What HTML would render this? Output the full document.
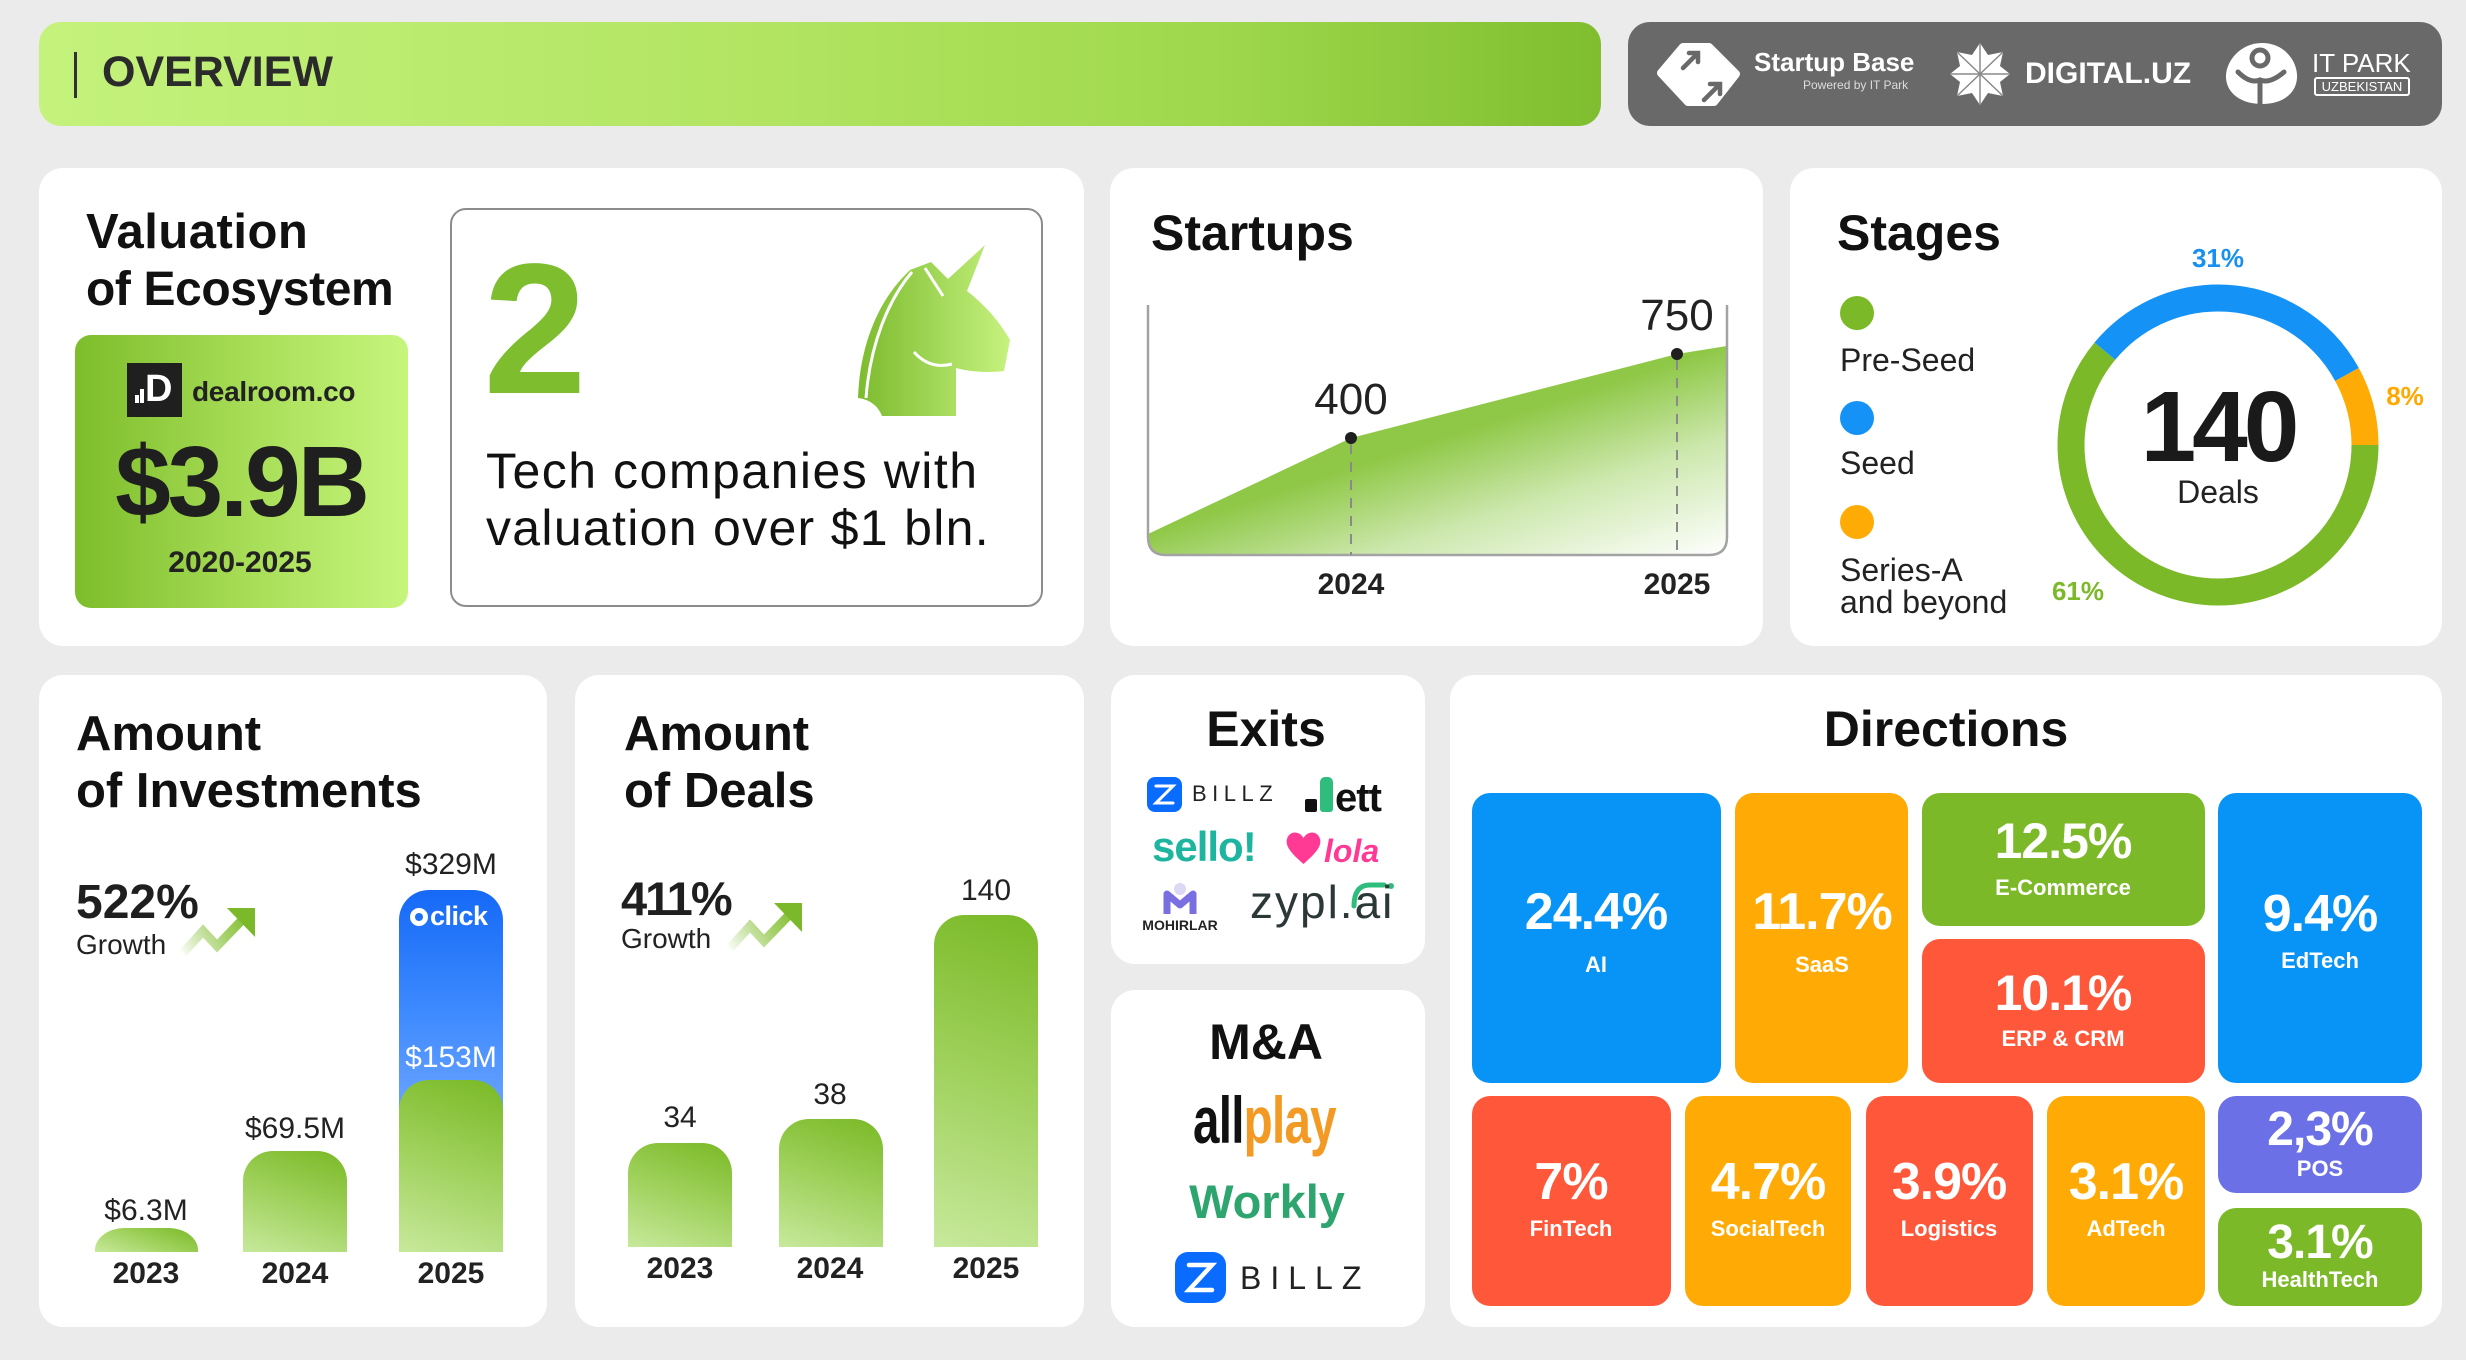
<!DOCTYPE html>
<html><head><meta charset="utf-8">
<style>
html,body{margin:0;padding:0;}
body{width:2466px;height:1360px;background:#ebebeb;position:relative;overflow:hidden;font-family:"Liberation Sans",Arial,sans-serif;}
.a{position:absolute;}
.card{position:absolute;background:#fff;border-radius:24px;}
.t{position:absolute;white-space:nowrap;line-height:1;font-family:"Liberation Sans",Arial,sans-serif;color:#1a1a1a;}
.c{transform:translateX(-50%);}
.b{font-weight:bold;}
.ttl{font-size:49px;font-weight:bold;color:#111;}
.bar{position:absolute;border-radius:30px 30px 0 0;background:linear-gradient(200deg,#79b926 0%,#9ccf57 45%,#c7e99c 100%);}
.tile{position:absolute;border-radius:18px;}
.big{font-size:52px;font-weight:bold;color:#fff;letter-spacing:-1px;}
.lab{font-size:22px;font-weight:bold;color:#fff;}
</style></head><body>

<!-- header -->
<div class="a" style="left:39px;top:22px;width:1562px;height:104px;border-radius:22px;background:linear-gradient(90deg,#c4f27c 0%,#b3e563 45%,#9fd84c 75%,#7fbe2f 100%);"></div>
<div class="a" style="left:74px;top:52px;width:3px;height:46px;background:#333;"></div>
<div class="a" style="left:1628px;top:22px;width:814px;height:104px;border-radius:22px;background:#696969;"></div>

<!-- cards -->
<div class="card" style="left:39px;top:168px;width:1045px;height:478px;"></div>
<div class="card" style="left:1110px;top:168px;width:653px;height:478px;"></div>
<div class="card" style="left:1790px;top:168px;width:652px;height:478px;"></div>
<div class="card" style="left:39px;top:675px;width:508px;height:652px;"></div>
<div class="card" style="left:575px;top:675px;width:509px;height:652px;"></div>
<div class="card" style="left:1111px;top:675px;width:314px;height:289px;"></div>
<div class="card" style="left:1111px;top:990px;width:314px;height:337px;"></div>
<div class="card" style="left:1450px;top:675px;width:992px;height:652px;"></div>

<!-- dealroom box -->
<div class="a" style="left:75px;top:335px;width:333px;height:273px;border-radius:16px;background:linear-gradient(90deg,#7dbd2b 0%,#a6dc55 50%,#c6f57c 100%);"></div>
<div class="a" style="left:127px;top:363px;width:55px;height:54px;background:#1f1f1f;"></div>
<div class="a" style="left:135px;top:395px;width:4px;height:8px;background:#fff;"></div>
<div class="a" style="left:140px;top:389px;width:4px;height:14px;background:#fff;"></div>
<!-- unicorn box -->
<div class="a" style="left:450px;top:208px;width:593px;height:399px;border:2.5px solid #8c8c8c;border-radius:16px;box-sizing:border-box;"></div>

<!-- investment bars -->
<div class="bar" style="left:95px;top:1228px;width:103px;height:24px;border-radius:30px 30px 0 0/22px 22px 0 0;"></div>
<div class="bar" style="left:243px;top:1151px;width:104px;height:101px;"></div>
<div class="a" style="left:399px;top:890px;width:104px;height:362px;border-radius:30px 30px 0 0;background:linear-gradient(180deg,#1569f6 0%,#3f8bff 35%,#78abff 70%,#a9cbff 100%);"></div>
<div class="bar" style="left:399px;top:1080px;width:104px;height:172px;"></div>
<!-- deals bars -->
<div class="bar" style="left:628px;top:1143px;width:104px;height:104px;"></div>
<div class="bar" style="left:779px;top:1119px;width:104px;height:128px;"></div>
<div class="bar" style="left:934px;top:915px;width:104px;height:332px;"></div>

<!-- direction tiles -->
<div class="tile" style="left:1472px;top:793px;width:249px;height:290px;background:#0893f6;"></div>
<div class="tile" style="left:1735px;top:793px;width:173px;height:290px;background:#ffaa05;"></div>
<div class="tile" style="left:1922px;top:793px;width:283px;height:133px;background:#7cb928;"></div>
<div class="tile" style="left:1922px;top:939px;width:283px;height:144px;background:#ff573a;"></div>
<div class="tile" style="left:2218px;top:793px;width:204px;height:290px;background:#0893f6;"></div>
<div class="tile" style="left:1472px;top:1096px;width:199px;height:210px;background:#ff573a;"></div>
<div class="tile" style="left:1685px;top:1096px;width:166px;height:210px;background:#ffaa05;"></div>
<div class="tile" style="left:1866px;top:1096px;width:167px;height:210px;background:#ff573a;"></div>
<div class="tile" style="left:2047px;top:1096px;width:158px;height:210px;background:#ffaa05;"></div>
<div class="tile" style="left:2218px;top:1096px;width:204px;height:97px;background:#6b70e6;"></div>
<div class="tile" style="left:2218px;top:1208px;width:204px;height:98px;background:#7cb928;"></div>

<!-- exits / M&A icon boxes -->
<div class="a" style="left:1147px;top:777px;width:35px;height:35px;border-radius:8px;background:#0a6cff;"></div>
<div class="a" style="left:1175px;top:1252px;width:51px;height:51px;border-radius:13px;background:#0a6cff;"></div>
<div class="a" style="left:1305px;top:799px;width:12px;height:13px;border-radius:2px;background:#111;"></div>
<div class="a" style="left:1320px;top:777px;width:13px;height:35px;border-radius:5px 5px 3px 3px;background:#2ebd7c;"></div>

<svg class="a" style="left:0;top:0;" width="2466" height="1360" viewBox="0 0 2466 1360">
<defs>
<linearGradient id="ag" gradientUnits="userSpaceOnUse" x1="1148" y1="534" x2="1210" y2="724">
<stop offset="0" stop-color="#8fc847"/><stop offset="0.45" stop-color="#cde8ae"/><stop offset="1" stop-color="#ffffff"/></linearGradient>
<linearGradient id="ug" x1="0" y1="0" x2="1" y2="0"><stop offset="0" stop-color="#7cbb2e"/><stop offset="1" stop-color="#c6f27f"/></linearGradient>
<linearGradient id="arg" gradientUnits="userSpaceOnUse" x1="183" y1="953" x2="250" y2="912"><stop offset="0" stop-color="#7cb92a" stop-opacity="0.05"/><stop offset="0.6" stop-color="#8cc43e" stop-opacity="0.8"/><stop offset="1" stop-color="#7cb92a"/></linearGradient>
<linearGradient id="arg2" gradientUnits="userSpaceOnUse" x1="730" y1="948" x2="797" y2="907"><stop offset="0" stop-color="#7cb92a" stop-opacity="0.05"/><stop offset="0.6" stop-color="#8cc43e" stop-opacity="0.8"/><stop offset="1" stop-color="#7cb92a"/></linearGradient>
</defs>

<!-- header logos -->
<polygon points="1683,47 1709,47 1736,74 1714,102 1688,102 1661,73" fill="#fff" stroke="#fff" stroke-width="8" stroke-linejoin="round"/>
<g stroke="#696969" stroke-width="4.5" fill="none" stroke-linecap="round">
<line x1="1683" y1="68" x2="1697" y2="54"/><polyline points="1689,53 1698,53 1698,62"/>
<line x1="1704" y1="100" x2="1719" y2="85"/><polyline points="1710,84 1720,84 1720,94"/>
</g>
<polygon points="1980,43 1988,55 2003,52 2000,66 2010,74 2000,82 2003,96 1988,93 1980,105 1972,93 1957,96 1960,82 1950,74 1960,66 1957,52 1972,55" fill="#fff"/>
<g stroke="#8a8a8a" stroke-width="1.5"><line x1="1980" y1="43" x2="1980" y2="105"/><line x1="1957" y1="52" x2="2003" y2="96"/><line x1="2003" y1="52" x2="1957" y2="96"/><line x1="1950" y1="74" x2="2010" y2="74"/></g>
<path d="M2262 43 C2285 43 2298 62 2297 78 C2296 94 2282 104 2262 104 C2242 104 2227 94 2226 78 C2225 62 2240 43 2262 43 Z" fill="#fff"/>
<g stroke="#696969" stroke-width="5" fill="none" stroke-linecap="round">
<circle cx="2260" cy="58" r="8"/><path d="M2238 72 Q2250 84 2260 80 Q2270 84 2284 72"/><line x1="2260" y1="80" x2="2260" y2="104"/>
</g>

<!-- unicorn -->
<path d="M858 398 C860 345 878 300 910 270 L931 262 L948 279 L985 245 L967 291 C985 305 1000 322 1010 340 L1004 371 C990 373 970 372 956 368 L956 416 L882 416 C878 405 868 399 858 398 Z" fill="url(#ug)"/>
<path d="M912 272 C888 300 870 345 866 398" stroke="#fff" stroke-width="3" fill="none"/>
<path d="M925 268 L943 296" stroke="#fff" stroke-width="3" fill="none"/>
<path d="M914 352 Q930 370 952 364" stroke="#fff" stroke-width="3" fill="none"/>

<!-- startups chart -->
<path d="M1148 534 L1351 438 L1677 354 L1727 346 L1727 537 Q1727 555 1709 555 L1166 555 Q1148 555 1148 537 Z" fill="url(#ag)"/>
<path d="M1148 305 L1148 537 Q1148 555 1166 555 L1709 555 Q1727 555 1727 537 L1727 305" fill="none" stroke="#a3a3a3" stroke-width="2.5"/>
<g stroke="#8a8a8a" stroke-width="2" stroke-dasharray="10 8"><line x1="1351" y1="444" x2="1351" y2="555"/><line x1="1677" y1="360" x2="1677" y2="555"/></g>
<circle cx="1351" cy="438" r="6" fill="#1f1f1f"/><circle cx="1677" cy="354" r="6" fill="#1f1f1f"/>

<!-- legend dots -->
<circle cx="1857" cy="313" r="17" fill="#7cb928"/>
<circle cx="1857" cy="418" r="17" fill="#1592f5"/>
<circle cx="1857" cy="522" r="17" fill="#ffab05"/>
<!-- donut -->
<g fill="none" stroke-width="27">
<circle cx="2218" cy="445" r="147" stroke="#7cb928" stroke-dasharray="563.4 923.6"/>
<circle cx="2218" cy="445" r="147" stroke="#1592f5" stroke-dasharray="286.3 637.3" stroke-dashoffset="-563.4"/>
<circle cx="2218" cy="445" r="147" stroke="#ffab05" stroke-dasharray="73.9 849.7" stroke-dashoffset="-849.7"/>
</g>

<!-- growth arrows -->
<polyline points="183,953 203,931 217,946 245,917" fill="none" stroke="url(#arg)" stroke-width="9" stroke-linejoin="miter"/>
<polygon points="227,908 255,908 255,937" fill="#7cb92a"/>
<polyline points="730,948 750,926 764,941 792,912" fill="none" stroke="url(#arg2)" stroke-width="9"/>
<polygon points="774,903 802,903 802,932" fill="#7cb92a"/>

<!-- click ring -->
<circle cx="419" cy="917" r="6.5" fill="none" stroke="#fff" stroke-width="5"/>

<!-- exits logos -->
<path d="M1156 786 H1173 L1156 803 H1173" stroke="#fff" stroke-width="3" fill="none" stroke-linecap="round"/>
<path d="M1303.5 864 C1291 853 1285 846 1287 839 C1289 831 1299 830 1303.5 838 C1308 830 1318 831 1320 839 C1322 846 1316 853 1303.5 864 Z" fill="#ff3a95"/>
<circle cx="1180" cy="889" r="6" fill="#dcd8f5"/>
<path d="M1167 914 V894 L1180 905 L1193 894 V914" stroke="#7a6fe0" stroke-width="7" fill="none" stroke-linejoin="round"/>
<path d="M1354 906 Q1354 885 1370 885 L1384 885" stroke="#2ebd7c" stroke-width="5" fill="none" stroke-linecap="round"/>
<circle cx="1391" cy="886" r="3" fill="#2ebd7c"/>
<!-- M&A billz Z -->
<path d="M1189 1265 H1212 L1189 1290 H1212" stroke="#fff" stroke-width="4.5" fill="none" stroke-linecap="round"/>
</svg>

<!-- TEXT -->
<div class="t b" style="left:102px;top:51px;font-size:43px;color:#2b2b2b;">OVERVIEW</div>
<div class="t b" style="left:1754px;top:49px;font-size:26px;color:#fff;">Startup Base</div>
<div class="t" style="left:1803px;top:79px;font-size:12px;color:#ddd;">Powered by IT Park</div>
<div class="t b" style="left:2025px;top:59px;font-size:30px;color:#fff;">DIGITAL.UZ</div>
<div class="t" style="left:2312px;top:50px;font-size:26px;color:#fff;">IT PARK</div>
<div class="a" style="left:2314px;top:77px;width:96px;height:19px;border:2px solid #fff;border-radius:3px;box-sizing:border-box;"></div>
<div class="t c" style="left:2362px;top:80px;font-size:13px;color:#fff;">UZBEKISTAN</div>

<div class="t ttl" style="left:86px;top:208px;letter-spacing:0.5px;">Valuation</div>
<div class="t ttl" style="left:86px;top:266px;font-size:48px;letter-spacing:-0.4px;">of Ecosystem</div>
<div class="t b" style="left:145px;top:370px;font-size:38px;color:#fff;">D</div>
<div class="t b" style="left:192px;top:378px;font-size:28px;color:#222;letter-spacing:-0.3px;">dealroom.co</div>
<div class="t b c" style="left:241px;top:432px;font-size:100px;color:#1f1f1f;letter-spacing:-3px;">$3.9B</div>
<div class="t b c" style="left:240px;top:548px;font-size:30px;color:#222;">2020-2025</div>
<div class="t b c" style="left:535px;top:237px;font-size:186px;color:#7dbd2e;">2</div>
<div class="t" style="left:486px;top:446px;font-size:50px;color:#111;letter-spacing:1.5px;">Tech companies with</div>
<div class="t" style="left:486px;top:503px;font-size:50px;color:#111;letter-spacing:1.3px;">valuation over $1 bln.</div>

<div class="t ttl" style="left:1151px;top:208px;font-size:50px;">Startups</div>
<div class="t c" style="left:1351px;top:378px;font-size:44px;color:#222;">400</div>
<div class="t c" style="left:1677px;top:294px;font-size:44px;color:#222;">750</div>
<div class="t b c" style="left:1351px;top:570px;font-size:30px;color:#222;">2024</div>
<div class="t b c" style="left:1677px;top:570px;font-size:30px;color:#222;">2025</div>

<div class="t ttl" style="left:1837px;top:208px;font-size:50px;">Stages</div>
<div class="t" style="left:1840px;top:344px;font-size:32px;color:#222;">Pre-Seed</div>
<div class="t" style="left:1840px;top:447px;font-size:32px;color:#222;">Seed</div>
<div class="t" style="left:1840px;top:554px;font-size:32px;color:#222;">Series-A</div>
<div class="t" style="left:1840px;top:586px;font-size:32px;color:#222;">and beyond</div>
<div class="t b c" style="left:2218px;top:377px;font-size:100px;color:#1a1a1a;letter-spacing:-4px;">140</div>
<div class="t c" style="left:2218px;top:476px;font-size:32px;color:#222;">Deals</div>
<div class="t b c" style="left:2218px;top:245px;font-size:26px;color:#1890f0;">31%</div>
<div class="t b c" style="left:2405px;top:383px;font-size:26px;color:#ffa800;">8%</div>
<div class="t b c" style="left:2078px;top:578px;font-size:26px;color:#7cb928;">61%</div>

<div class="t ttl" style="left:76px;top:710px;">Amount</div>
<div class="t ttl" style="left:76px;top:767px;">of Investments</div>
<div class="t b" style="left:76px;top:879px;font-size:48px;color:#1f1f1f;">522%</div>
<div class="t" style="left:76px;top:931px;font-size:28px;color:#222;">Growth</div>
<div class="t c" style="left:146px;top:1196px;font-size:30px;color:#222;">$6.3M</div>
<div class="t c" style="left:295px;top:1114px;font-size:30px;color:#222;">$69.5M</div>
<div class="t c" style="left:451px;top:850px;font-size:30px;color:#222;">$329M</div>
<div class="t c" style="left:451px;top:1043px;font-size:30px;color:#fff;">$153M</div>
<div class="t b" style="left:430px;top:903px;font-size:27px;color:#fff;letter-spacing:-0.5px;">click</div>
<div class="t b c" style="left:146px;top:1259px;font-size:30px;color:#222;">2023</div>
<div class="t b c" style="left:295px;top:1259px;font-size:30px;color:#222;">2024</div>
<div class="t b c" style="left:451px;top:1259px;font-size:30px;color:#222;">2025</div>

<div class="t ttl" style="left:624px;top:710px;">Amount</div>
<div class="t ttl" style="left:624px;top:767px;">of Deals</div>
<div class="t b" style="left:621px;top:875px;font-size:47px;color:#1f1f1f;letter-spacing:-2px;">411%</div>
<div class="t" style="left:621px;top:925px;font-size:28px;color:#222;">Growth</div>
<div class="t c" style="left:680px;top:1103px;font-size:30px;color:#222;">34</div>
<div class="t c" style="left:830px;top:1080px;font-size:30px;color:#222;">38</div>
<div class="t c" style="left:986px;top:876px;font-size:30px;color:#222;">140</div>
<div class="t b c" style="left:680px;top:1254px;font-size:30px;color:#222;">2023</div>
<div class="t b c" style="left:830px;top:1254px;font-size:30px;color:#222;">2024</div>
<div class="t b c" style="left:986px;top:1254px;font-size:30px;color:#222;">2025</div>

<div class="t ttl c" style="left:1266px;top:704px;font-size:50px;">Exits</div>
<div class="t" style="left:1192px;top:783px;font-size:22px;color:#222;letter-spacing:5.5px;">BILLZ</div>
<div class="t b" style="left:1335px;top:778px;font-size:40px;color:#111;letter-spacing:-1px;">ett</div>
<div class="t b" style="left:1152px;top:826px;font-size:42px;color:#1db59f;letter-spacing:-1px;">sello!</div>
<div class="t b" style="left:1324px;top:835px;font-size:32px;color:#ff3a95;font-style:italic;">lola</div>
<div class="t b c" style="left:1180px;top:918px;font-size:14px;color:#222;">MOHIRLAR</div>
<div class="t" style="left:1250px;top:879px;font-size:46px;color:#2c3838;letter-spacing:2px;">zypl.ai</div>

<div class="t ttl c" style="left:1266px;top:1017px;font-size:50px;">M&amp;A</div>
<div class="t b" style="left:1193px;top:1087px;font-size:66px;letter-spacing:-1px;transform:scaleX(0.72);transform-origin:left top;color:#111;">all<span style="color:#f39a24;">play</span></div>
<div class="t b c" style="left:1267px;top:1178px;font-size:47px;color:#2ea56f;">Workly</div>
<div class="t" style="left:1240px;top:1262px;font-size:32px;color:#222;letter-spacing:9px;">BILLZ</div>

<div class="t ttl c" style="left:1946px;top:704px;font-size:50px;">Directions</div>
<div class="t big c" style="left:1596px;top:886px;">24.4%</div>
<div class="t lab c" style="left:1596px;top:954px;">AI</div>
<div class="t big c" style="left:1822px;top:886px;">11.7%</div>
<div class="t lab c" style="left:1822px;top:954px;">SaaS</div>
<div class="t big c" style="left:2063px;top:816px;font-size:50px;">12.5%</div>
<div class="t lab c" style="left:2063px;top:877px;">E-Commerce</div>
<div class="t big c" style="left:2063px;top:968px;font-size:50px;">10.1%</div>
<div class="t lab c" style="left:2063px;top:1028px;">ERP &amp; CRM</div>
<div class="t big c" style="left:2320px;top:888px;">9.4%</div>
<div class="t lab c" style="left:2320px;top:950px;">EdTech</div>
<div class="t big c" style="left:1571px;top:1156px;">7%</div>
<div class="t lab c" style="left:1571px;top:1218px;">FinTech</div>
<div class="t big c" style="left:1768px;top:1156px;">4.7%</div>
<div class="t lab c" style="left:1768px;top:1218px;">SocialTech</div>
<div class="t big c" style="left:1949px;top:1156px;">3.9%</div>
<div class="t lab c" style="left:1949px;top:1218px;">Logistics</div>
<div class="t big c" style="left:2126px;top:1156px;">3.1%</div>
<div class="t lab c" style="left:2126px;top:1218px;">AdTech</div>
<div class="t big c" style="left:2320px;top:1106px;font-size:48px;">2,3%</div>
<div class="t lab c" style="left:2320px;top:1158px;">POS</div>
<div class="t big c" style="left:2320px;top:1219px;font-size:48px;">3.1%</div>
<div class="t lab c" style="left:2320px;top:1269px;">HealthTech</div>

</body></html>
